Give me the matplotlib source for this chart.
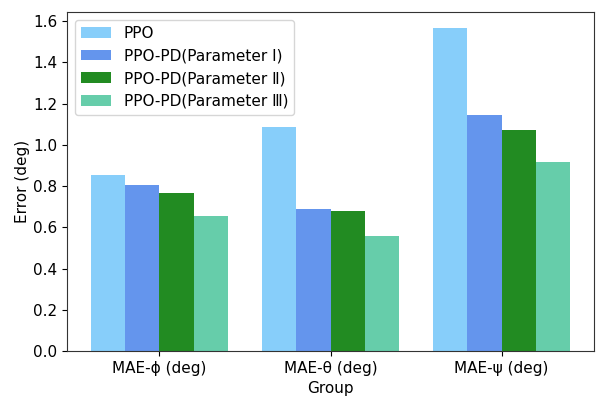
import matplotlib
matplotlib.use('Agg')
import matplotlib.pyplot as plt
import numpy as np

groups = ['MAE-\u03d5 (deg)', 'MAE-\u03b8 (deg)', 'MAE-\u03c8 (deg)']
labels = ['PPO', 'PPO-PD(Parameter \u2160)', 'PPO-PD(Parameter \u2161)', 'PPO-PD(Parameter \u2162)']
ppo = [0.856, 1.088, 1.566]
param1 = [0.806, 0.687, 1.145]
param2 = [0.768, 0.678, 1.073]
param3 = [0.656, 0.559, 0.918]
colors = ['lightskyblue', 'cornflowerblue', 'forestgreen', 'mediumaquamarine']

plt.rcParams['font.size'] = 11

fig = plt.figure(figsize=(5.97, 3.98), dpi=100)
ax = fig.add_axes([67/597, 1 - 351/398, (594-67)/597, (351-12)/398])

x = np.arange(len(groups))
width = 0.2
series = [ppo, param1, param2, param3]
for i, vals in enumerate(series):
    ax.bar(x + (i - 1.5) * width, vals, width, color=colors[i], label=labels[i])

ax.set_xticks(x)
ax.set_xticklabels(groups)
ax.set_xlabel('Group', labelpad=4)
ax.set_ylabel('Error (deg)', labelpad=2)
ax.set_ylim(0, 1.645)
ax.set_yticks(np.arange(0, 1.61, 0.2))
for s in ax.spines.values():
    s.set_color('#333333')
ax.legend(loc='upper left')

fig.savefig('out.png', dpi=100)
